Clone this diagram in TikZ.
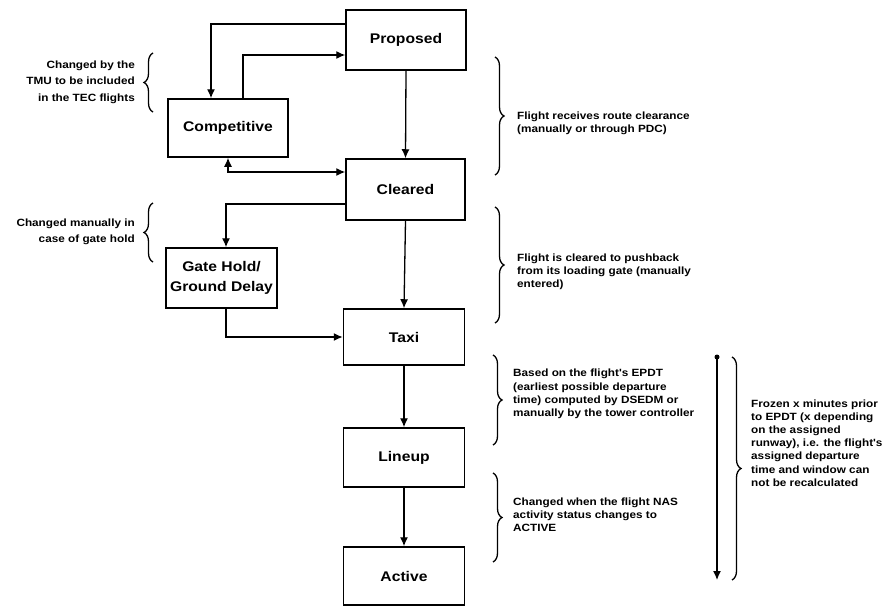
\documentclass[tikz,border=0pt]{standalone}
\usepackage{fontspec}
\setmainfont{Liberation Sans}
\newfontfamily\wfont[FakeStretch=1.12]{Liberation Sans}
\usetikzlibrary{arrows.meta,decorations.pathreplacing}
\begin{document}
\begin{tikzpicture}[x=1pt,y=-1pt,
  box/.style={draw,line width=1.5pt,minimum width=120pt,minimum height=60pt,
    font=\wfont\fontsize{14}{20}\selectfont\bfseries,align=center,inner sep=2pt},
  arr/.style={line width=1.3pt,-{Latex[length=9pt,width=8pt]}},
  brc/.style={line width=1.3pt,decorate,decoration={brace,amplitude=9pt}},
  note/.style={font=\wfont\fontsize{10.5}{13.2}\selectfont\bfseries,inner sep=0pt,align=left},
  lnote/.style={font=\wfont\fontsize{10.5}{16.5}\selectfont\bfseries,inner sep=0pt,align=right}
]
\fill[white] (0,0) rectangle (889,608);
\useasboundingbox (0,0) rectangle (889,608);

% boxes
\node[box] (prop) at (406,40) {Proposed};
\node[box,minimum height=58pt] (comp) at (228,128) {Competitive};
\node[box,minimum width=119pt,minimum height=61pt] (clr) at (405.5,189.5) {Cleared};
\node[box,minimum width=111pt] (gate) at (221.5,278) {Gate Hold/\\Ground Delay};
\node[box,minimum width=121pt,minimum height=56pt] (taxi) at (404,337) {Taxi};
\node[box,minimum width=121pt,minimum height=59pt] (line) at (404,457.5) {Lineup};
\node[box,minimum width=121pt,minimum height=58pt] (act) at (404,576) {Active};

% connectors
\draw[arr] (prop.south) -- (clr.north);
\draw[arr] ([yshift=16pt]prop.west) -| ([xshift=-17pt]comp.north);
\draw[arr] ([xshift=15pt]comp.north) |- ([yshift=-15pt]prop.west);
\draw[line width=1.3pt,{Latex[length=9pt,width=8pt]}-{Latex[length=9pt,width=8pt]}] (comp.south) |- ([yshift=17.5pt]clr.west);
\draw[arr] ([yshift=-14.5pt]clr.west) -| ([xshift=4.5pt]gate.north);
\draw[arr] (clr.south) -- (taxi.north);
\draw[arr] ([xshift=4.5pt]gate.south) |- (taxi.west);
\draw[arr] (taxi.south) -- (line.north);
\draw[arr] (line.south) -- (act.north);

% timeline arrow
\coordinate (ts) at (717,357);
\coordinate (te) at (717,580);
\draw[arr] (ts) -- (te);
\fill (ts) circle (2.5pt);

% braces (right side)
\draw[brc] (495,57) -- (495,175);
\draw[brc] (495,207) -- (495,323);
\draw[brc] (493,355) -- (493,445);
\draw[brc] (493,473) -- (493,562);
\draw[brc] (732,357) -- (732,580);
% braces (left side)
\draw[brc] (153,112) -- (153,53);
\draw[brc] (153,262) -- (153,203);

% notes
\node[note,anchor=west] (n1) at (517,123) {Flight receives route clearance\\(manually or through PDC)};
\node[note,anchor=west] (n2) at (517,272) {Flight is cleared to pushback\\from its loading gate (manually\\entered)};
\node[note,anchor=west] (n3) at (513,394) {Based on the flight's EPDT\\(earliest possible departure\\time) computed by DSEDM or\\manually by the tower controller};
\node[note,anchor=west] (n4) at (513,515) {Changed when the flight NAS\\activity status changes to\\ACTIVE};
\node[note,anchor=west] (n5) at (751,443) {Frozen x minutes prior\\to EPDT (x depending\\on the assigned\\runway), i.e. the flight's\\assigned departure\\time and window can\\not be recalculated};
\node[lnote,anchor=east] (n6) at (135,82) {Changed by the\\TMU to be included\\in the TEC flights};
\node[lnote,anchor=east] (n7) at (135,232) {Changed manually in\\case of gate hold};
\end{tikzpicture}
\end{document}
